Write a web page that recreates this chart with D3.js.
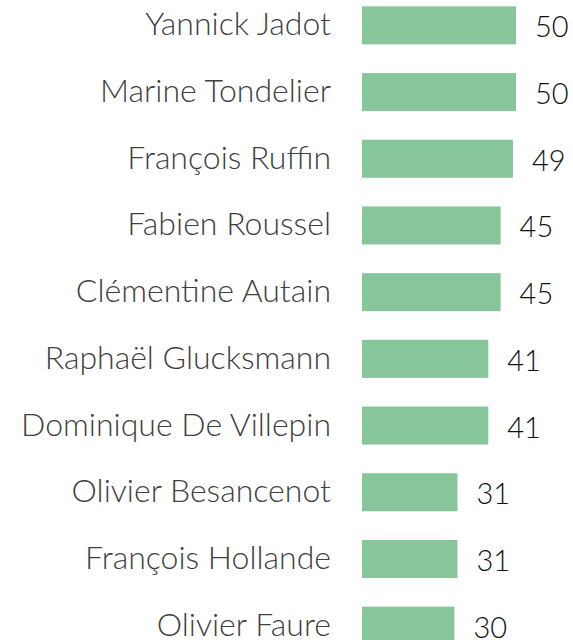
<!DOCTYPE html>
<html><head><meta charset="utf-8">
<script src="https://cdn.jsdelivr.net/npm/d3@7"></script>
<style>html,body{margin:0;padding:0;background:#fff;overflow:hidden}</style>
</head><body>
<svg id="chart" width="573" height="640"></svg>
<script>
const names = ["Yannick Jadot","Marine Tondelier","François Ruffin","Fabien Roussel","Clémentine Autain","Raphaël Glucksmann","Dominique De Villepin","Olivier Besancenot","François Hollande","Olivier Faure"];
const values = [50,50,49,45,45,41,41,31,31,30];

const svg = d3.select("#chart");
const x0 = 362, pxPerUnit = 3.08;
const x = d3.scaleLinear().domain([0,50]).range([x0, x0 + 50*pxPerUnit]);
const y = d3.scaleBand().domain(names).range([-8, -8 + 66.7*10]).paddingInner(0.43).paddingOuter(0.215);

const FONT = "'Lato', sans-serif";
svg.selectAll("rect.bar").data(names).join("rect")
  .attr("class","bar")
  .attr("x", x(0))
  .attr("y", d => y(d))
  .attr("width", (d,i) => x(values[i]) - x(0))
  .attr("height", y.bandwidth())
  .attr("fill", "#86C69A");

const nameText = svg.selectAll("text.name").data(names).join("text")
  .attr("class","name")
  .attr("x", 331)
  .attr("y", d => y(d) + y.bandwidth()/2 + 10)
  .attr("text-anchor","end")
  .attr("fill","#404040")
  .style("font-family", FONT)
  .style("font-weight", 300)
  .style("font-size","27px")
  .text(d => d);
let maxW = 0;
nameText.each(function(){ maxW = Math.max(maxW, this.getComputedTextLength()); });
const fs = 27 * 310 / maxW;
nameText.style("font-size", fs + "px");

svg.selectAll("text.val").data(names).join("text")
  .attr("class","val")
  .attr("x", (d,i) => x(values[i]) + 19)
  .attr("y", d => y(d) + y.bandwidth()/2 + 12)
  .attr("fill","#111")
  .style("font-family", FONT)
  .style("font-weight", 300)
  .style("font-size", "29px")
  .text((d,i) => values[i]);
</script>
</body></html>
